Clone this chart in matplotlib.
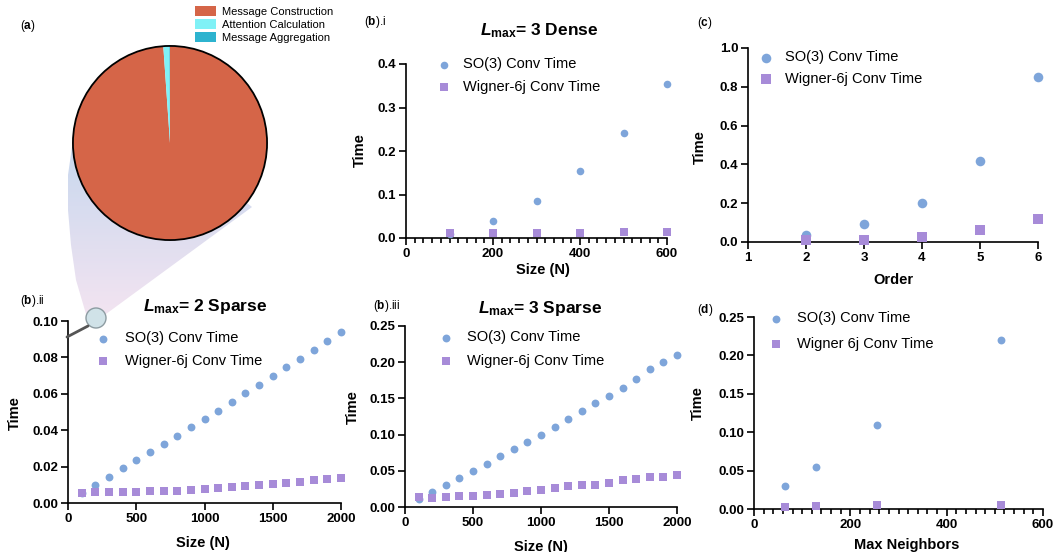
import numpy as np
import matplotlib
matplotlib.use("Agg")
import matplotlib.pyplot as plt
import matplotlib.ticker as mticker
from matplotlib.colors import LinearSegmentedColormap
from matplotlib.patches import Polygon, Circle

plt.rcParams['font.family'] = 'Liberation Sans'
plt.rcParams['font.weight'] = 'bold'
plt.rcParams['axes.labelweight'] = 'bold'
plt.rcParams['mathtext.fontset'] = 'custom'
plt.rcParams['mathtext.it'] = 'Liberation Sans:italic:bold'
plt.rcParams['mathtext.bf'] = 'Liberation Sans:bold'
plt.rcParams['mathtext.rm'] = 'Liberation Sans:bold'

# ---- data ----
pie_labels = ['Message Construction', 'Attention Calculation', 'Message Aggregation']
pie_values = [98.9, 1.0, 0.1]
pie_colors = ['#d56548', '#80f1f6', '#2db3cf']

size_dense = [100, 200, 300, 400, 500, 600]
dense_so3 = [0.009, 0.038, 0.085, 0.153, 0.242, 0.354]
dense_w6j = [0.011, 0.011, 0.011, 0.011, 0.013, 0.013]

order = [2, 3, 4, 5, 6]
order_so3 = [0.034, 0.095, 0.20, 0.42, 0.85]
order_w6j = [0.009, 0.012, 0.026, 0.060, 0.120]

size_sparse = [100, 200, 300, 400, 500, 600, 700, 800, 900, 1000,
               1100, 1200, 1300, 1400, 1500, 1600, 1700, 1800, 1900, 2000]
l2_so3 = [0.0055, 0.0099, 0.0143, 0.0190, 0.0236, 0.0280, 0.0324, 0.0369, 0.0419, 0.0460,
          0.0508, 0.0556, 0.0603, 0.0649, 0.0698, 0.0746, 0.0793, 0.0843, 0.0890, 0.0938]
l2_w6j = [0.0055, 0.0060, 0.0060, 0.0062, 0.0062, 0.0066, 0.0066, 0.0068, 0.0073, 0.0079,
          0.0084, 0.0090, 0.0095, 0.0100, 0.0106, 0.0112, 0.0117, 0.0128, 0.0133, 0.0139]
l3_so3 = [0.011, 0.0207, 0.030, 0.040, 0.050, 0.060, 0.070, 0.080, 0.090, 0.100,
          0.111, 0.122, 0.1326, 0.143, 0.1533, 0.164, 0.1768, 0.190, 0.200, 0.210]
l3_w6j = [0.0138, 0.013, 0.0134, 0.0147, 0.015, 0.016, 0.0175, 0.019, 0.022, 0.0235,
          0.026, 0.0285, 0.030, 0.031, 0.033, 0.037, 0.0387, 0.041, 0.042, 0.0447]

neighbors = [64, 128, 256, 512]
nb_so3 = [0.030, 0.055, 0.110, 0.2204]
nb_w6j = [0.003, 0.004, 0.005, 0.005]

SO3_COL = '#7ea5da'
W6J_COL = '#a78bd8'

W, H = 1055, 552
fig = plt.figure(figsize=(W / 100, H / 100), dpi=100)


def rect(l, t, r, b):
    return [l / W, 1 - b / H, (r - l) / W, (b - t) / H]


def fx(x):
    return x / W


def fy(y):
    return 1 - y / H


# background layer (funnel)
bg = fig.add_axes([0, 0, 1, 1], zorder=-1)
bg.set_xlim(0, W)
bg.set_ylim(H, 0)
bg.axis('off')
funnel = Polygon([(73, 140), (68, 175), (68, 210), (71, 245), (76, 280), (86, 314),
                  (106, 314), (252, 207), (170, 143)], closed=True, fc='none', ec='none')
bg.add_patch(funnel)
cmap = LinearSegmentedColormap.from_list('fun', ['#c5d7ee', '#f4e4f1'])
grad = np.linspace(0, 1, 256).reshape(-1, 1)
im = bg.imshow(grad, cmap=cmap, extent=(60, 260, 320, 135), aspect='auto')
im.set_clip_path(funnel)
bg.set_xlim(0, W)
bg.set_ylim(H, 0)

# pie
axp = fig.add_axes(rect(71, 44, 269, 242))
wedges, _ = axp.pie(pie_values, colors=pie_colors, startangle=90, counterclock=False,
                    radius=1, wedgeprops=dict(linewidth=0))
axp.add_patch(Circle((0, 0), 1, fc='none', ec='black', lw=1.3))
axp.set_xlim(-1.02, 1.02)
axp.set_ylim(-1.02, 1.02)
axp.legend(wedges, pie_labels, loc='upper left', bbox_to_anchor=(fx(195), fy(6)),
           bbox_transform=fig.transFigure, frameon=False, prop=dict(size=8, weight='normal'),
           handlelength=1.9, handleheight=1.0, handletextpad=0.55, labelspacing=0.2,
           borderpad=0, borderaxespad=0)


def style(ax, xlim, ylim, xticks, yticks, yfmt, xminor=None):
    for s in ['top', 'right']:
        ax.spines[s].set_visible(False)
    for s in ['left', 'bottom']:
        ax.spines[s].set_linewidth(1.2)
    ax.set_xlim(*xlim)
    ax.set_ylim(*ylim)
    ax.set_xticks(xticks)
    ax.set_yticks(yticks)
    ax.yaxis.set_major_formatter(mticker.FormatStrFormatter(yfmt))
    if xminor:
        ax.xaxis.set_minor_locator(mticker.MultipleLocator(xminor))
        ax.xaxis.set_minor_formatter(mticker.NullFormatter())
    ax.tick_params(which='major', direction='out', length=5, width=1.2, labelsize=9.5, pad=2)
    ax.tick_params(axis='x', which='minor', direction='out', length=3.5, width=1.2,
                   bottom=True)


def scat(ax, x, y1, y2, ms, lab2='Wigner-6j Conv Time'):
    ax.scatter(x, y1, s=ms, c=SO3_COL, marker='o', lw=0, clip_on=False, zorder=3,
               label='SO(3) Conv Time')
    ax.scatter(x, y2, s=ms, c=W6J_COL, marker='s', lw=0, clip_on=False, zorder=3,
               label=lab2)


def legend(ax, mx, y1, y2, tx, fs=10.5):
    em = fs * 100 / 72
    hl = 1.0
    ax.legend(loc='center left', bbox_to_anchor=(fx(mx - hl * em / 2), fy((y1 + y2) / 2)),
              bbox_transform=fig.transFigure, frameon=False, scatterpoints=1,
              prop=dict(size=fs, weight='normal'), handlelength=hl,
              handletextpad=(tx - mx - hl * em / 2) / em,
              labelspacing=((y2 - y1) - 1.15 * em) / em, borderpad=0, borderaxespad=0)


def title(ax, cx, cy, txt):
    fig.text(fx(cx), fy(cy), r'$L_{\mathrm{max}}$= ' + txt, ha='center', va='center',
             fontsize=12.5, fontweight='bold')


def labels(ax, xl, xpos, yl, ypos):
    ax.set_xlabel(xl, fontsize=10.5)
    ax.set_ylabel(yl, fontsize=10.5)
    ax.xaxis.set_label_coords(fx(xpos[0]), fy(xpos[1]), transform=fig.transFigure)
    ax.yaxis.set_label_coords(fx(ypos[0]), fy(ypos[1]), transform=fig.transFigure)
    ax.xaxis.label.set_va('center')
    ax.yaxis.label.set_va('center')


# (b).i
ax1 = fig.add_axes(rect(406, 64, 667, 238))
scat(ax1, size_dense, dense_so3, dense_w6j, 30)
style(ax1, (0, 600), (0, 0.4), [0, 200, 400, 600], [0, 0.1, 0.2, 0.3, 0.4], '%.1f', xminor=20)
legend(ax1, 444, 63, 88, 463)
labels(ax1, 'Size (N)', (543, 270), 'Time', (360, 150))
title(ax1, 539, 31, '3 Dense')

# (c)
ax2 = fig.add_axes(rect(748, 48, 1038, 242))
scat(ax2, order, order_so3, order_w6j, 48)
style(ax2, (1, 6), (0, 1.0), [1, 2, 3, 4, 5, 6], [0, 0.2, 0.4, 0.6, 0.8, 1.0], '%.1f')
legend(ax2, 766, 56, 80, 785)
labels(ax2, 'Order', (893, 280), 'Time', (700, 147))

# (b).ii
ax3 = fig.add_axes(rect(68, 321, 341, 503))
scat(ax3, size_sparse, l2_so3, l2_w6j, 32)
style(ax3, (0, 2000), (0, 0.10), [0, 500, 1000, 1500, 2000],
      [0, 0.02, 0.04, 0.06, 0.08, 0.10], '%.2f')
legend(ax3, 103, 337, 362, 125)
labels(ax3, 'Size (N)', (203, 543), 'Time', (15, 413))
title(ax3, 205, 307, '2 Sparse')

# (b).iii
ax4 = fig.add_axes(rect(405, 326, 677, 507))
scat(ax4, size_sparse, l3_so3, l3_w6j, 32)
style(ax4, (0, 2000), (0, 0.25), [0, 500, 1000, 1500, 2000],
      [0, 0.05, 0.10, 0.15, 0.20, 0.25], '%.2f')
legend(ax4, 446, 336, 362, 467)
labels(ax4, 'Size (N)', (541, 547), 'Time', (353, 407))
title(ax4, 540, 308, '3 Sparse')

# (d)
ax5 = fig.add_axes(rect(754, 317, 1043, 509))
scat(ax5, neighbors, nb_so3, nb_w6j, 32, lab2='Wigner 6j Conv Time')
style(ax5, (0, 600), (0, 0.25), [0, 200, 400, 600],
      [0, 0.05, 0.10, 0.15, 0.20, 0.25], '%.2f', xminor=20)
legend(ax5, 776, 317, 345, 797)
labels(ax5, 'Max Neighbors', (907, 545), 'Time', (698, 403))

# overlay: panel labels and magnifier
ov = fig.add_axes([0, 0, 1, 1], zorder=10)
ov.set_xlim(0, W)
ov.set_ylim(H, 0)
ov.axis('off')
ov.plot([67, 88], [337, 326], color='#555555', lw=2, solid_capstyle='round')
ov.add_patch(Circle((96, 318), 10, fc='#d0e2e8', ec='#8d9ca2', lw=1))
for (x, y, s) in [(20, 26, r'($\mathbf{a}$)'), (364, 22, r'($\mathbf{b}$).i'),
                  (697, 23, r'($\mathbf{c}$)'), (20, 301, r'($\mathbf{b}$).ii'),
                  (373, 306, r'($\mathbf{b}$).iii'), (697, 310, r'($\mathbf{d}$)')]:
    ov.text(x, y, s, ha='left', va='center', fontsize=8.5, fontweight='normal')

fig.savefig('out.png', dpi=100)
